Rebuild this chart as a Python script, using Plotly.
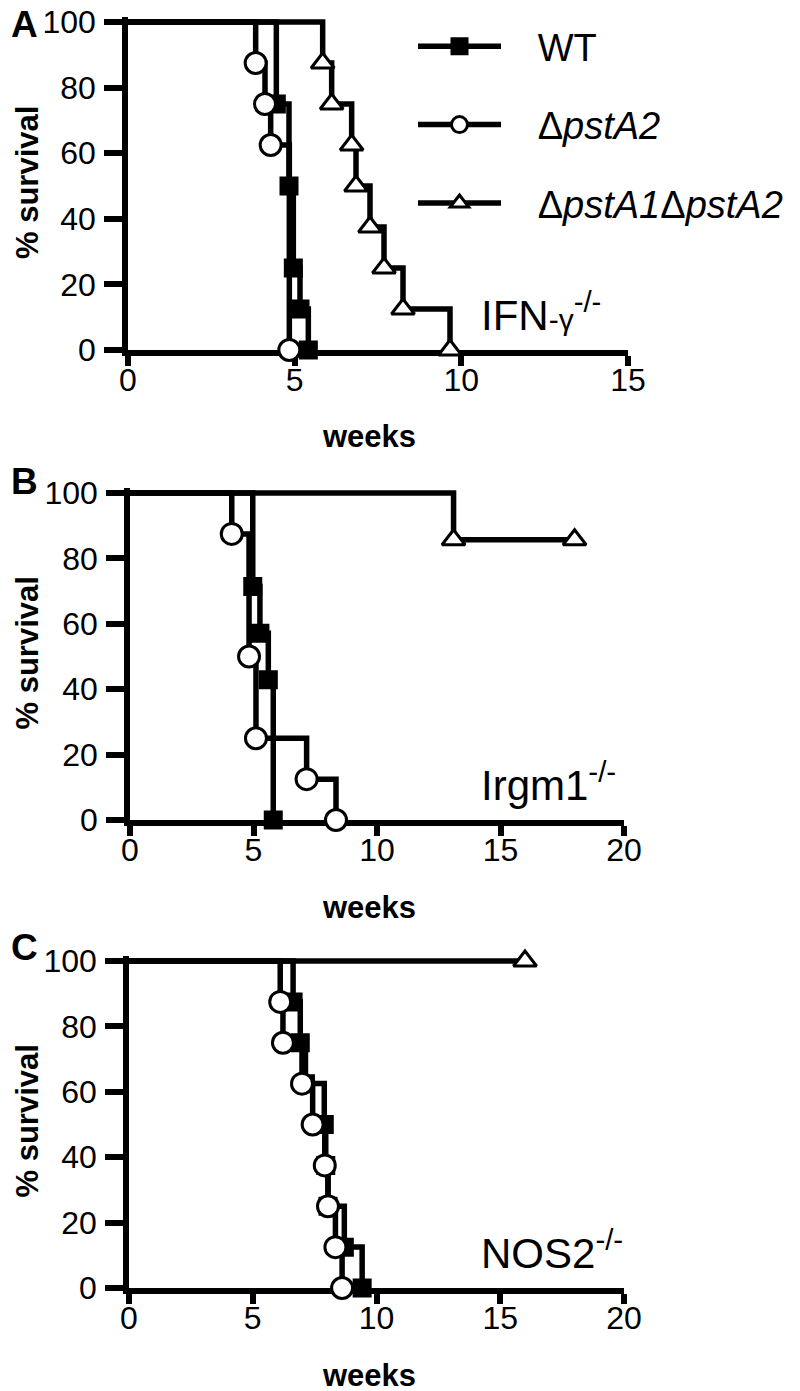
import plotly.graph_objects as go

W, H = 800, 1391
OFF = 8  # page margin of the html body, positions below are in screen px
FONT = "Arial, 'Liberation Sans', sans-serif"

# ---- data: survival (%) after infection, weeks ----
# A: IFN-γ-/-
a_wt_weeks = [4.45, 4.83, 4.96, 5.16, 5.41]
a_wt_surv = [75, 50, 25, 12.5, 0]
a_d2_weeks = [3.83, 4.11, 4.28, 4.84]
a_d2_surv = [87.5, 75, 62.5, 0]
a_d12_weeks = [5.84, 6.11, 6.71, 6.84, 7.26, 7.68, 8.25, 9.66]
a_d12_surv = [87.5, 75, 62.5, 50, 37.5, 25, 12.5, 0]

# B: Irgm1-/-
b_wt_weeks = [4.97, 5.26, 5.6, 5.8]
b_wt_surv = [71.4, 57.1, 42.9, 0]
b_d2_weeks = [4.12, 4.82, 5.1, 7.15, 8.34]
b_d2_surv = [87.5, 50, 25, 12.5, 0]
b_d12_weeks = [13.1, 18]
b_d12_surv = [85.7, 85.7]

# C: NOS2-/-
c_wt_weeks = [6.63, 6.92, 7.13, 7.89, 7.95, 8.04, 8.7, 9.42]
c_wt_surv = [87.5, 75, 62.5, 50, 37.5, 25, 12.5, 0]
c_d2_weeks = [6.11, 6.22, 6.99, 7.42, 7.91, 8.04, 8.34, 8.61]
c_d2_surv = [87.5, 75, 62.5, 50, 37.5, 25, 12.5, 0]
c_d12_weeks = [16]
c_d12_surv = [100]

y_ticks = [0, 20, 40, 60, 80, 100]
x_max = [15, 20, 20]
panel_letters = ["A", "B", "C"]
panel_hosts = ["IFN<span style='font-size:30px'>-γ</span><sup>-/-</sup>",
               "Irgm1<sup>-/-</sup>",
               "NOS2<sup>-/-</sup>"]

SERIES = [
    ("WT", "WT", dict(symbol="square", size=17, color="black",
                      line=dict(color="black", width=2))),
    ("d2", "Δ<i>pstA2</i>", dict(symbol="circle", size=21, color="white",
                                 line=dict(color="black", width=3))),
    ("d12", "Δ<i>pstA1</i>Δ<i>pstA2</i>",
     dict(symbol="triangle-up", size=20, color="white",
          line=dict(color="black", width=3))),
]

panels = [
    [(a_wt_weeks, a_wt_surv), (a_d2_weeks, a_d2_surv), (a_d12_weeks, a_d12_surv)],
    [(b_wt_weeks, b_wt_surv), (b_d2_weeks, b_d2_surv), (b_d12_weeks, b_d12_surv)],
    [(c_wt_weeks, c_wt_surv), (c_d2_weeks, c_d2_surv), (c_d12_weeks, c_d12_surv)],
]

# screen-pixel frame of each panel: x of week 0, x of last week, y of 100 %, y of 0 %
frames = [(128, 628, 22, 350), (130, 624, 493, 820), (129, 624, 961, 1288)]
letter_y = [24, 481, 947]
Y_TOP = 101.5
LW = 5.5


def px(x):
    return (x - OFF) / W


def py(y):
    return 1 - (y - OFF) / H


fig = go.Figure()

for i, series in enumerate(panels):
    xa = "x" if i == 0 else f"x{i + 1}"
    ya = "y" if i == 0 else f"y{i + 1}"
    # step lines first, markers on top
    for (key, name, mk), (wk, sv) in zip(SERIES, series):
        fig.add_trace(go.Scatter(
            x=[0] + wk, y=[100] + sv, mode="lines",
            line=dict(color="black", width=LW, shape="hv"),
            showlegend=False, xaxis=xa, yaxis=ya, hoverinfo="skip",
        ))
    for (key, name, mk), (wk, sv) in zip(SERIES, series):
        fig.add_trace(go.Scatter(
            x=wk, y=sv, mode="markers", marker=mk, cliponaxis=False,
            showlegend=False, xaxis=xa, yaxis=ya,
        ))

# legend-only entries
for key, name, mk in SERIES:
    fig.add_trace(go.Scatter(
        x=[None], y=[None], mode="lines+markers", name="\u00a0\u00a0\u00a0" + name,
        legendgroup=key, line=dict(color="black", width=LW), marker=mk,
    ))

axis_common = dict(
    showline=True, linecolor="black", linewidth=LW, showgrid=False, zeroline=False,
    ticks="outside", tickcolor="black", tickwidth=LW, layer="below traces",
    ticklabeloverflow="allow",
    tickfont=dict(family=FONT, size=32, color="black"),
)

annotations = []
for i, (x0, x1, y100, y0) in enumerate(frames):
    px_per = (y0 - y100) / 100.0
    top = y0 - px_per * Y_TOP
    sfx = "" if i == 0 else str(i + 1)
    fig.update_layout(**{
        f"xaxis{sfx}": dict(axis_common, domain=[px(x0), px(x1)], range=[0, x_max[i]],
                            dtick=5, ticklen=10, ticklabelstandoff=-13,
                            anchor=f"y{sfx}"),
        f"yaxis{sfx}": dict(axis_common, domain=[py(y0), py(top)],
                            range=[0, Y_TOP], tickvals=y_ticks, ticklen=18,
                            ticklabelstandoff=2, anchor=f"x{sfx}"),
    })
    annotations += [
        dict(text="<b>weeks</b>", x=px(369), y=py(y0 + 87), xref="paper", yref="paper",
             xanchor="center", yanchor="middle", showarrow=False,
             font=dict(family=FONT, size=31, color="black")),
        dict(text="<b>% survival</b>", x=px(27), y=py((y100 + y0) / 2 - 3),
             xref="paper", yref="paper", xanchor="center", yanchor="middle",
             textangle=-90, showarrow=False,
             font=dict(family=FONT, size=31, color="black")),
        dict(text=f"<b>{panel_letters[i]}</b>", x=px(24), y=py(letter_y[i]),
             xref="paper", yref="paper", xanchor="center", yanchor="middle",
             height=28, showarrow=False, font=dict(family=FONT, size=37, color="black")),
        dict(text=panel_hosts[i], x=px(479), y=py(y0 - 38), xref="paper", yref="paper",
             xanchor="left", yanchor="middle", showarrow=False,
             font=dict(family=FONT, size=42, color="black")),
    ]

fig.update_layout(
    width=W, height=H,
    margin=dict(l=0, r=0, t=0, b=0, autoexpand=False),
    paper_bgcolor="white", plot_bgcolor="white",
    annotations=annotations,
    showlegend=True,
    legend=dict(
        x=px(413), y=py(15), xanchor="left", yanchor="top",
        font=dict(family=FONT, size=38, color="black"),
        itemwidth=83, tracegroupgap=26, bgcolor="rgba(0,0,0,0)",
        itemclick=False, itemdoubleclick=False,
    ),
)

fig.write_html("out.html")
